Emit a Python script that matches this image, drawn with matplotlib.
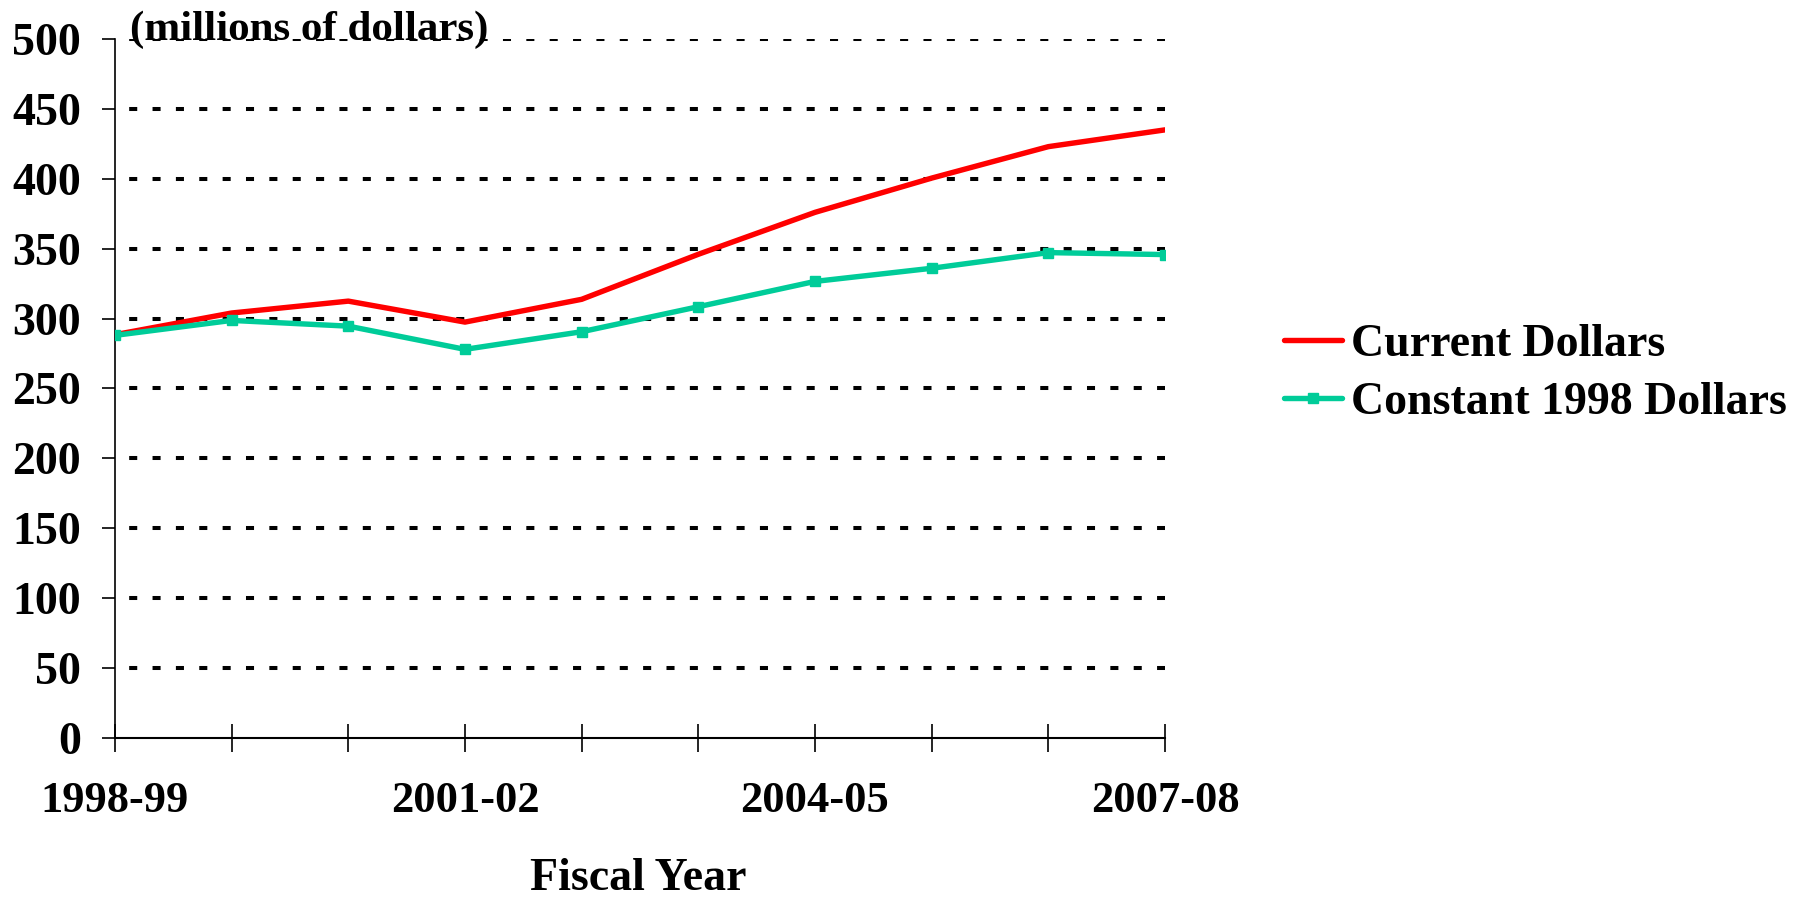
import matplotlib.pyplot as plt

plt.rcParams['font.family'] = ['Liberation Serif', 'DejaVu Serif']
plt.rcParams['font.weight'] = 'bold'

years = ["1998-99", "1999-00", "2000-01", "2001-02", "2002-03",
         "2003-04", "2004-05", "2005-06", "2006-07", "2007-08"]
current = [288.5, 304, 312.5, 297.5, 313.8, 346, 376, 400.5, 423, 435]
constant = [288, 298.7, 294.6, 278, 290.6, 308.5, 326.6, 336, 347.2, 345.8]
tick_labels = ["1998-99", "", "", "2001-02", "", "", "2004-05", "", "", "2007-08"]
yticks = [0, 50, 100, 150, 200, 250, 300, 350, 400, 450, 500]

red = "#FF0000"
green = "#00CC99"

fig = plt.figure(figsize=(18.11, 9.01), dpi=100)
ax = fig.add_axes([115 / 1811, 1 - 738 / 901, 1050 / 1811, 699 / 901])

x = list(range(len(years)))
l1, = ax.plot(x, current, color=red, lw=3.9, solid_capstyle='round',
              label="Current Dollars", zorder=3)
l2, = ax.plot(x, constant, color=green, lw=3.9, marker='s', markersize=7.5,
              solid_capstyle='round', label="Constant 1998 Dollars", zorder=3)

ax.set_xlim(0, 9)
ax.set_ylim(0, 500)
ax.set_yticks(yticks)
ax.set_xticks(x)
ax.set_xticklabels(tick_labels)

# dotted horizontal gridlines (not at zero)
for v in yticks[1:]:
    ax.axhline(v, color='black', lw=2.9, linestyle=(2.28, (2.0, 3.8)), zorder=1)

for s in ['top', 'right']:
    ax.spines[s].set_visible(False)
ax.spines['left'].set_linewidth(1.2)
ax.spines['bottom'].set_linewidth(1.5)

ax.tick_params(axis='y', direction='out', length=9.5, width=1.2,
               labelsize=33, pad=15)
ax.tick_params(axis='x', direction='inout', length=20, width=1.2,
               labelsize=32, pad=21)
for lab in ax.get_xticklabels() + ax.get_yticklabels():
    lab.set_fontweight('bold')

fig.text(130 / 1811, 1 - 40 / 901, "(millions of dollars)", fontsize=31,
         fontweight='bold', ha='left', va='baseline')
fig.text(638 / 1811, 1 - 890 / 901, "Fiscal Year", fontsize=33,
         fontweight='bold', ha='center', va='baseline')

fig.legend(handles=[l1, l2], loc='center left',
           bbox_to_anchor=(1284 / 1811, 1 - 374 / 901),
           frameon=False, handlelength=1.27, handletextpad=0.2,
           labelspacing=0.35, borderpad=0, borderaxespad=0,
           prop={'weight': 'bold', 'size': 33})

fig.savefig("out.png", dpi=100)
